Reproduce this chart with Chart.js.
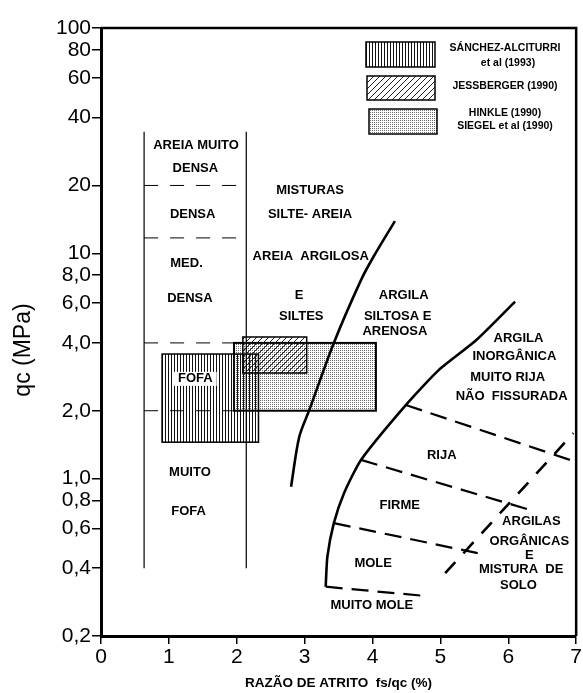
<!DOCTYPE html>
<html>
<head>
<meta charset="utf-8">
<title>Classificação de solos por CPT</title>
<script src="https://cdn.jsdelivr.net/npm/chart.js@4.4.1/dist/chart.umd.min.js"></script>
<style>
  html, body { margin: 0; padding: 0; background: #fff; }
  canvas { display: block; }
</style>
</head>
<body>
<canvas id="chart" width="583" height="693"></canvas>
<script>
'use strict';

/* ── DATA (fs/qc in %, qc in MPa) ── */
const Y_TICKS = [0.2, 0.4, 0.6, 0.8, 1, 2, 4, 6, 8, 10, 20, 40, 60, 80, 100];

// sand density column
const COLUMN_X      = [0.635, 2.14];
const COLUMN_Y      = [0.4, 34.6];
const DENSITY_LIMITS = [20, 11.7, 4.0, 2.0];

// solid boundaries
const CURVE_A_X = [2.80, 2.92, 3.07, 3.43, 3.83, 4.01, 4.33];
const CURVE_A_Y = [0.92, 1.53, 2.02, 4.0, 7.6, 9.6, 13.9];
const CURVE_B_X = [3.31, 3.335, 3.43, 3.58, 3.83, 4.49, 4.975, 5.53, 6.10];
const CURVE_B_Y = [0.331, 0.450, 0.634, 0.861, 1.21, 2.12, 3.03, 4.12, 6.10];

// consistency limits (dashed) : [x0, y0, x1, y1]
const CONSISTENCY = [
  [4.49, 2.12, 6.91, 1.21],
  [3.83, 1.21, 6.32, 0.726],
  [3.43, 0.634, 5.68, 0.458],
  [3.31, 0.331, 4.78, 0.301]
];
const ORGANIC_X = [5.07, 6.96];
const ORGANIC_Y = [0.38, 1.59];

// study ranges
const HINKLE_X   = [1.96, 4.05];
const HINKLE_Y   = [2.0, 4.0];
const SANCHEZ_X  = [0.90, 2.32];
const SANCHEZ_Y  = [1.45, 3.57];
const JESSBERG_X = [2.09, 3.03];
const JESSBERG_Y = [2.94, 4.25];

// zone names
const LABELS = [
  ['AREIA MUITO', 1.40, 30.2], ['DENSA', 1.39, 23.9], ['DENSA', 1.35, 14.9],
  ['MED.', 1.26, 9.06], ['DENSA', 1.31, 6.33], ['FOFA', 1.39, 2.77, true],
  ['MUITO', 1.31, 1.07], ['FOFA', 1.29, 0.718],
  ['MISTURAS', 3.08, 19.1], ['SILTE- AREIA', 3.08, 14.9], ['AREIA  ARGILOSA', 3.09, 9.66],
  ['E', 2.92, 6.48], ['SILTES', 2.95, 5.23],
  ['ARGILA', 4.46, 6.53], ['SILTOSA E', 4.37, 5.23], ['ARENOSA', 4.33, 4.49],
  ['ARGILA', 6.15, 4.17], ['INORGÂNICA', 6.09, 3.47], ['MUITO RIJA', 5.99, 2.80],
  ['NÃO  FISSURADA', 6.05, 2.31],
  ['RIJA', 5.02, 1.27], ['FIRME', 4.40, 0.756], ['MOLE', 4.01, 0.418], ['MUITO MOLE', 3.99, 0.272],
  ['ARGILAS', 6.34, 0.644], ['ORGÂNICAS', 6.31, 0.525], ['E', 6.31, 0.458],
  ['MISTURA  DE', 6.19, 0.396], ['SOLO', 6.15, 0.337]
];

const LEGEND_ITEMS = [
  { pattern: 'vert', lines: ['SÁNCHEZ-ALCITURRI', 'et al (1993)'] },
  { pattern: 'diag', lines: ['JESSBERGER (1990)'] },
  { pattern: 'dots', lines: ['HINKLE (1990)', 'SIEGEL et al (1990)'] }
];

/* ── STYLE ── */
const FONT = "'Liberation Sans', Arial, sans-serif";
const INK  = '#000';

const canvas = document.getElementById('chart');
const mainCtx = canvas.getContext('2d');

function makePattern(w, h, draw) {
  const c = document.createElement('canvas');
  c.width = w; c.height = h;
  draw(c.getContext('2d'));
  return mainCtx.createPattern(c, 'repeat');
}

const PATTERNS = {
  vert: makePattern(3, 1, g => { g.fillStyle = '#111'; g.fillRect(0, 0, 1, 1); }),
  diag: makePattern(6, 6, g => {
    g.strokeStyle = '#222'; g.lineWidth = 1;
    g.beginPath();
    g.moveTo(0, 6); g.lineTo(6, 0);
    g.moveTo(-1, 1); g.lineTo(1, -1);
    g.moveTo(5, 7); g.lineTo(7, 5);
    g.stroke();
  }),
  dots: makePattern(2, 2, g => { g.fillStyle = '#6a6a6a'; g.fillRect(0, 0, 1, 1); })
};

const STUDY_ZONES = [
  { xs: HINKLE_X,   ys: HINKLE_Y,   pattern: 'dots', lw: 2 },
  { xs: SANCHEZ_X,  ys: SANCHEZ_Y,  pattern: 'vert', lw: 1.5 },
  { xs: JESSBERG_X, ys: JESSBERG_Y, pattern: 'diag', lw: 1.5 }
];

/* ── DATASETS ── */
const pts = (xs, ys) => xs.map((x, i) => ({ x, y: ys[i] }));
const lineSet = (data, extra) => Object.assign({
  data, showLine: true, pointRadius: 0, borderColor: INK, borderWidth: 1.2, tension: 0
}, extra);

const datasets = [
  lineSet(pts([COLUMN_X[0], COLUMN_X[0]], COLUMN_Y)),
  lineSet(pts([COLUMN_X[1], COLUMN_X[1]], COLUMN_Y)),
  ...DENSITY_LIMITS.map(v => lineSet(pts(COLUMN_X, [v, v]), { borderWidth: 1, borderDash: [14, 12] })),
  lineSet(pts(CURVE_A_X, CURVE_A_Y), { borderWidth: 2.6, tension: 0.3 }),
  lineSet(pts(CURVE_B_X, CURVE_B_Y), { borderWidth: 2.6, tension: 0.2 }),
  ...CONSISTENCY.map(s => lineSet(pts([s[0], s[2]], [s[1], s[3]]), { borderWidth: 2.2, borderDash: [17, 9] })),
  lineSet(pts(ORGANIC_X, ORGANIC_Y), { borderWidth: 2.6, borderDash: [15, 12] })
];

/* ── DRAWING PLUGIN ── */
const soilPlugin = {
  id: 'soil',
  beforeDatasetsDraw(chart) {
    const { ctx, chartArea: a, scales: { x, y } } = chart;
    ctx.save();
    ctx.beginPath(); ctx.rect(a.left, a.top, a.width, a.height); ctx.clip();
    STUDY_ZONES.forEach(z => {
      const l = x.getPixelForValue(z.xs[0]), r = x.getPixelForValue(z.xs[1]);
      const t = y.getPixelForValue(z.ys[1]), b = y.getPixelForValue(z.ys[0]);
      ctx.fillStyle = PATTERNS[z.pattern];
      ctx.fillRect(l, t, r - l, b - t);
      ctx.lineWidth = z.lw; ctx.strokeStyle = INK;
      ctx.strokeRect(l, t, r - l, b - t);
    });
    ctx.restore();
  },
  afterDatasetsDraw(chart) {
    const { ctx, scales: { x, y } } = chart;
    ctx.save();
    ctx.font = 'bold 13px ' + FONT;
    ctx.textAlign = 'center';
    ctx.textBaseline = 'middle';
    LABELS.forEach(([txt, vx, vy, boxed]) => {
      const px = x.getPixelForValue(vx), py = y.getPixelForValue(vy);
      if (boxed) {
        const w = ctx.measureText(txt).width;
        ctx.fillStyle = '#fff';
        ctx.fillRect(px - w / 2 - 4, py - 7, w + 8, 14);
      }
      ctx.fillStyle = INK;
      ctx.fillText(txt, px, py);
    });
    ctx.restore();
  },
  afterDraw(chart) {
    const { ctx, chartArea: a } = chart;
    ctx.save();
    // frame top + right
    ctx.strokeStyle = INK; ctx.lineWidth = 2.5;
    ctx.beginPath();
    ctx.moveTo(a.left, a.top); ctx.lineTo(a.right, a.top); ctx.lineTo(a.right, a.bottom);
    ctx.stroke();

    // legend
    const boxes = [[366, 42, 69, 25], [367, 76, 68, 24], [369, 109, 68, 25]];
    const textY = [[48, 63], [86], [113, 126]];
    ctx.font = 'bold 10.5px ' + FONT;
    ctx.textAlign = 'center'; ctx.textBaseline = 'middle';
    LEGEND_ITEMS.forEach((it, i) => {
      const [bx, by, bw, bh] = boxes[i];
      ctx.fillStyle = PATTERNS[it.pattern];
      ctx.fillRect(bx, by, bw, bh);
      ctx.lineWidth = 1.5; ctx.strokeStyle = INK;
      ctx.strokeRect(bx, by, bw, bh);
      ctx.fillStyle = INK;
      it.lines.forEach((ln, j) => ctx.fillText(ln, j === 1 && i === 0 ? 508 : 505, textY[i][j]));
    });

    // y axis title
    ctx.translate(24, 350);
    ctx.rotate(-Math.PI / 2);
    ctx.font = '23px ' + FONT;
    ctx.fillText('qc (MPa)', 0, 0);
    ctx.restore();
  }
};

/* ── CHART ── */
const fmtTick = v => v >= 10 ? String(v) : Number(v).toFixed(1).replace('.', ',');

new Chart(canvas, {
  type: 'scatter',
  data: { datasets },
  options: {
    responsive: false,
    animation: false,
    layout: { padding: { top: 28, right: 5, left: 0, bottom: 0 } },
    plugins: { legend: { display: false }, tooltip: { enabled: false } },
    scales: {
      x: {
        type: 'linear', min: 0, max: 7,
        ticks: { stepSize: 1, color: INK, padding: 1, font: { family: FONT, size: 21 } },
        grid: { drawOnChartArea: false, tickLength: 8, color: INK, lineWidth: 1.5 },
        border: { color: INK, width: 3 },
        title: {
          display: true, text: 'RAZÃO DE ATRITO  fs/qc (%)', color: INK,
          font: { family: FONT, size: 13.5, weight: 'bold' }, padding: { top: 0, bottom: 2 }
        },
        afterFit(s) { s.height = 57; }
      },
      y: {
        type: 'logarithmic', min: 0.2, max: 100,
        afterBuildTicks(s) { s.ticks = Y_TICKS.map(v => ({ value: v })); },
        ticks: { autoSkip: false, color: INK, padding: 1, font: { family: FONT, size: 21 }, callback: fmtTick },
        grid: { drawOnChartArea: false, tickLength: 9, color: INK, lineWidth: 1.5 },
        border: { color: INK, width: 3 },
        afterFit(s) { s.width = 101; }
      }
    }
  },
  plugins: [soilPlugin]
});
</script>
</body>
</html>
